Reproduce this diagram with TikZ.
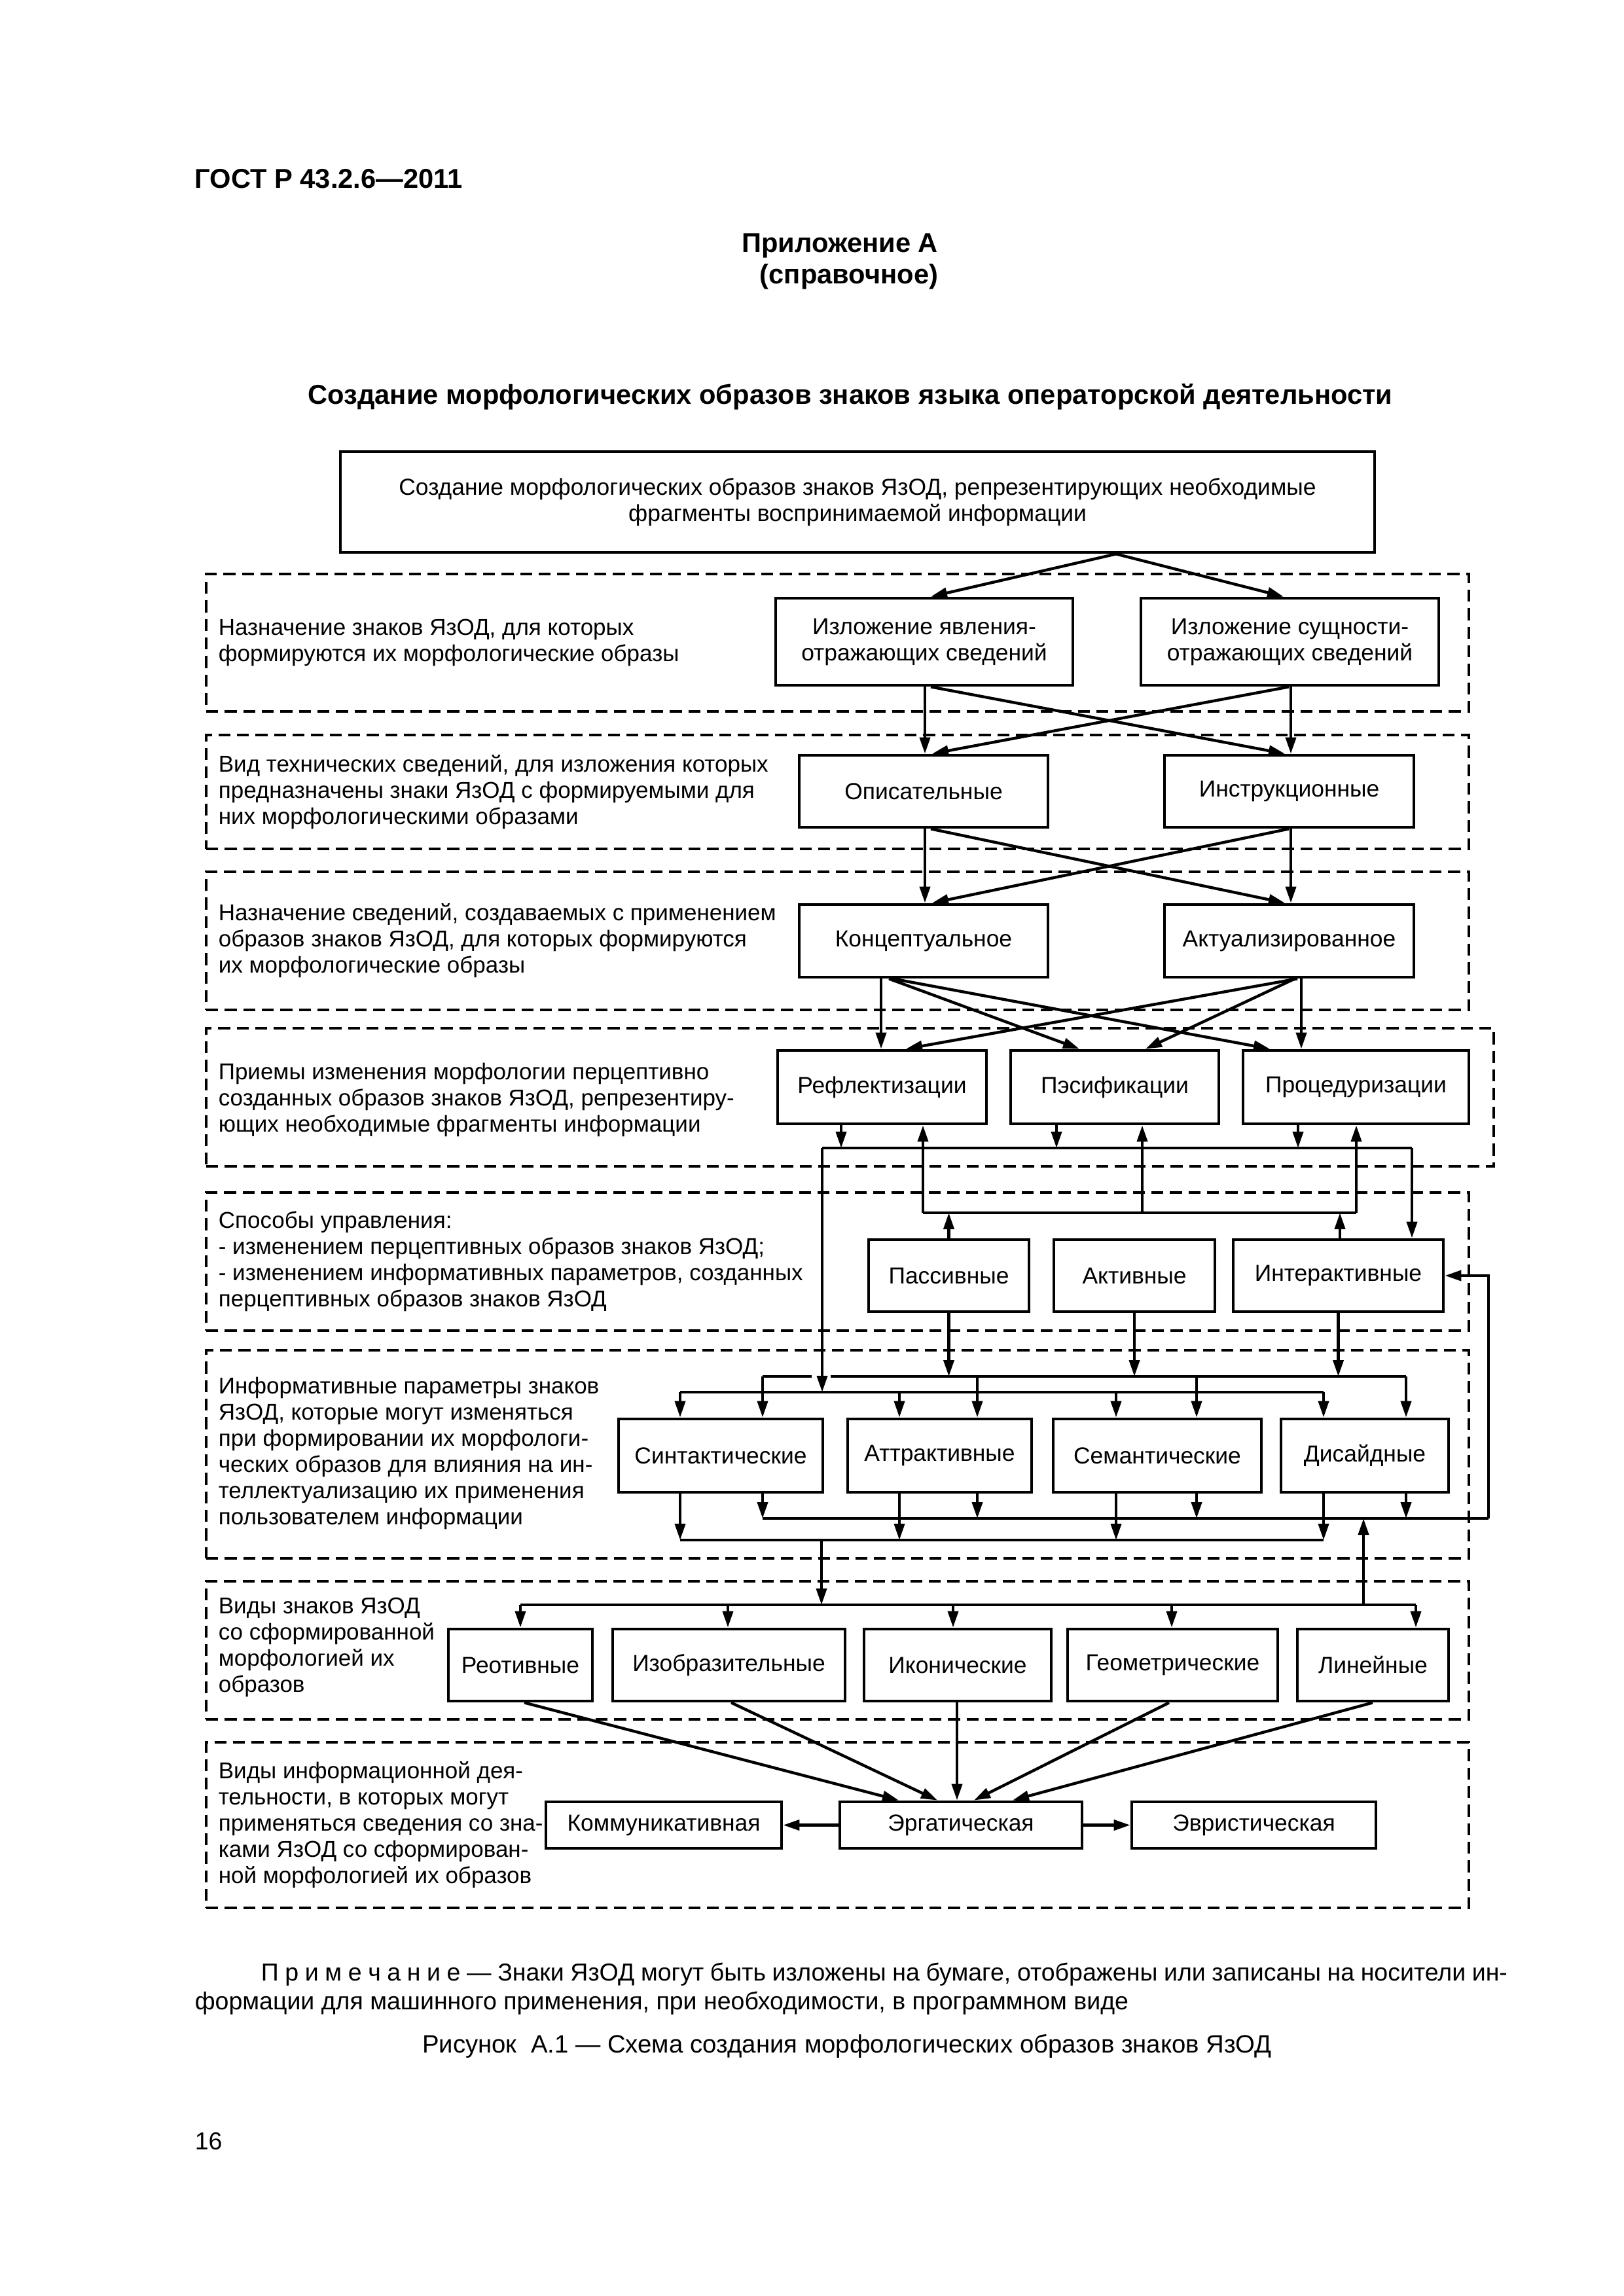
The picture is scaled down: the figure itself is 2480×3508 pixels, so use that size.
\documentclass[tikz,border=0pt]{standalone}
\usepackage{fontspec}
\setmainfont{Liberation Sans}
\usetikzlibrary{arrows.meta}
\newcommand\rnode[7]{\node[#1, minimum width={(#5-#3)*0.24pt}, minimum height={(#6-#4)*0.24pt}] (#2) at ({(#3+#5)/2},{(#4+#6)/2}) {#7};}
\tikzset{
  bx/.style={draw, line width=1.15pt, align=center, inner sep=0pt, font=\fontsize{8.5}{9.6}\selectfont},
  frm/.style={draw, line width=0.95pt, dash pattern=on 4.4pt off 2.4pt, inner sep=0pt},
  lbl/.style={anchor=west, align=left, inner sep=0pt, font=\fontsize{8.4}{9.6}\selectfont},
  ln/.style={line width=1.05pt},
  ar/.style={line width=1.05pt, -{Triangle[length=6pt,width=3.8pt]}},
  hdr/.style={inner sep=0pt, font=\bfseries\fontsize{10}{12}\selectfont},
  txt/.style={inner sep=0pt, font=\fontsize{9}{11}\selectfont}
}
\begin{document}
\begin{tikzpicture}[x=0.24pt,y=-0.24pt]
\fill[white] (0,0) rectangle (2480,3508);
\useasboundingbox (0,0) rectangle (2480,3508);

% header
\node[hdr, anchor=west] (gost) at (297,273) {ГОСТ Р 43.2.6—2011};
\node[hdr] (pril) at (1283,376) {Приложение А};
\node[hdr] (sprav) at (1297,423) {(справочное)};
\node[hdr] (title) at (1299,606) {Создание морфологических образов знаков языка операторской деятельности};

% frames
\rnode{frm}{f1}{315}{877}{2244}{1087}{}
\rnode{frm}{f2}{315}{1123}{2244}{1297}{}
\rnode{frm}{f3}{315}{1332}{2244}{1543}{}
\rnode{frm}{f4}{315}{1571}{2282}{1782}{}
\rnode{frm}{f5}{315}{1822}{2244}{2033}{}
\rnode{frm}{f6}{315}{2063}{2244}{2381}{}
\rnode{frm}{f7}{315}{2416}{2244}{2627}{}
\rnode{frm}{f8}{315}{2662}{2244}{2915}{}

% frame labels
\node[lbl] (t1) at (333,982) {Назначение знаков ЯзОД, для которых\\формируются их морфологические образы};
\node[lbl] (t2) at (333,1210) {Вид технических сведений, для изложения которых\\предназначены знаки ЯзОД с формируемыми для\\них морфологическими образами};
\node[lbl] (t3) at (333,1437) {Назначение сведений, создаваемых с применением\\образов знаков ЯзОД, для которых формируются\\их морфологические образы};
\node[lbl] (t4) at (333,1680) {Приемы изменения морфологии перцептивно\\созданных образов знаков ЯзОД, репрезентиру-\\ющих необходимые фрагменты информации};
\node[lbl] (t5) at (333,1927) {Способы управления:\\- изменением перцептивных образов знаков ЯзОД;\\- изменением информативных параметров, созданных\\перцептивных образов знаков ЯзОД};
\node[lbl] (t6) at (333,2220) {Информативные параметры знаков\\ЯзОД, которые могут изменяться\\при формировании их морфологи-\\ческих образов для влияния на ин-\\теллектуализацию их применения\\пользователем информации};
\node[lbl] (t7) at (333,2517) {Виды знаков ЯзОД\\со сформированной\\морфологией их\\образов};
\node[lbl] (t8) at (333,2788) {Виды информационной дея-\\тельности, в которых могут\\применяться сведения со зна-\\ками ЯзОД со сформирован-\\ной морфологией их образов};

% boxes
\rnode{bx}{top}{520}{690}{2100}{844}{Создание морфологических образов знаков ЯзОД, репрезентирующих необходимые\\фрагменты воспринимаемой информации}
\rnode{bx}{izl1}{1185}{914}{1639}{1047}{Изложение явления-\\отражающих сведений}
\rnode{bx}{izl2}{1743}{914}{2198}{1047}{Изложение сущности-\\отражающих сведений}
\rnode{bx}{opis}{1221}{1154}{1601}{1264}{Описательные}
\rnode{bx}{instr}{1779}{1154}{2160}{1264}{Инструкционные}
\rnode{bx}{konc}{1221}{1382}{1601}{1493}{Концептуальное}
\rnode{bx}{akt}{1779}{1382}{2160}{1493}{Актуализированное}
\rnode{bx}{refl}{1188}{1605}{1507}{1717}{Рефлектизации}
\rnode{bx}{pes}{1544}{1605}{1862}{1717}{Пэсификации}
\rnode{bx}{proc}{1899}{1605}{2244}{1717}{Процедуризации}
\rnode{bx}{pas}{1327}{1894}{1572}{2004}{Пассивные}
\rnode{bx}{act}{1610}{1894}{1856}{2004}{Активные}
\rnode{bx}{inter}{1884}{1894}{2205}{2004}{Интерактивные}
\rnode{bx}{syn}{945}{2168}{1257}{2280}{Синтактические}
\rnode{bx}{att}{1295}{2168}{1576}{2280}{Аттрактивные}
\rnode{bx}{sem}{1609}{2168}{1927}{2280}{Семантические}
\rnode{bx}{dis}{1957}{2168}{2213}{2280}{Дисайдные}
\rnode{bx}{reo}{685}{2489}{905}{2599}{Реотивные}
\rnode{bx}{izo}{936}{2489}{1291}{2599}{Изобразительные}
\rnode{bx}{ikon}{1320}{2489}{1606}{2599}{Иконические}
\rnode{bx}{geo}{1631}{2489}{1952}{2599}{Геометрические}
\rnode{bx}{lin}{1982}{2489}{2213}{2599}{Линейные}
\rnode{bx}{kom}{834}{2753}{1194}{2824}{Коммуникативная}
\rnode{bx}{erg}{1283}{2753}{1653}{2824}{Эргатическая}
\rnode{bx}{evr}{1729}{2753}{2102}{2824}{Эвристическая}

% top -> F1
\draw[ar] (top.south -| 1705,0) -- (izl1.north -| 1422,0);
\draw[ar] (top.south -| 1705,0) -- (izl2.north -| 1961,0);
% F1 -> F2
\draw[ar] (izl1.south -| 1413,0) -- (opis.north -| 1413,0);
\draw[ar] (izl1.south -| 1422,0) -- (instr.north -| 1963,0);
\draw[ar] (izl2.south -| 1969,0) -- (opis.north -| 1424,0);
\draw[ar] (izl2.south -| 1972,0) -- (instr.north -| 1972,0);
% F2 -> F3
\draw[ar] (opis.south -| 1413,0) -- (konc.north -| 1413,0);
\draw[ar] (opis.south -| 1422,0) -- (akt.north -| 1963,0);
\draw[ar] (instr.south -| 1969,0) -- (konc.north -| 1424,0);
\draw[ar] (instr.south -| 1972,0) -- (akt.north -| 1972,0);
% F3 -> F4
\draw[ar] (konc.south -| 1346,0) -- (refl.north -| 1346,0);
\draw[ar] (konc.south -| 1358,0) -- (pes.north -| 1649,0);
\draw[ar] (konc.south -| 1364,0) -- (proc.north -| 1940,0);
\draw[ar] (akt.south -| 1982,0) -- (refl.north -| 1384,0);
\draw[ar] (akt.south -| 1978,0) -- (pes.north -| 1750,0);
\draw[ar] (akt.south -| 1988,0) -- (proc.north -| 1988,0);

% F4 buses
\coordinate (ub1) at (1256,1754);
\coordinate (ub2) at (2157,1754);
\coordinate (lb1) at (1410,1853);
\coordinate (lb2) at (2072,1853);
\draw[ln] (ub1) -- (ub2);
\draw[ln] (lb1) -- (lb2);
\draw[ar] (refl.south -| 1285,0) -- (ub1 -| 1285,0);
\draw[ar] (pes.south -| 1614,0) -- (ub1 -| 1614,0);
\draw[ar] (proc.south -| 1983,0) -- (ub1 -| 1983,0);
\draw[ar] (lb1) -- (refl.south -| lb1);
\draw[ar] (lb1 -| 1745,0) -- (pes.south -| 1745,0);
\draw[ar] (lb2) -- (proc.south -| lb2);
\draw[ar] (ub2) -- (inter.north -| ub2);
\draw[ar] (pas.north) -- (lb1 -| pas.north);
\draw[ar] (inter.north -| 2047,0) -- (lb1 -| 2047,0);

% F6 buses
\coordinate (b1a) at (1165,2103);
\coordinate (b1b) at (2148,2103);
\coordinate (b2a) at (1039,2127);
\coordinate (b2b) at (2022,2127);
\coordinate (b3a) at (1165,2320);
\coordinate (b3b) at (2274,2320);
\coordinate (b4a) at (1039,2353);
\coordinate (b4b) at (2022,2353);
\draw[ar] (ub1) -- (b2a -| ub1);
\draw[ln] (b1a) -- (b1a -| 1240,0);
\draw[ln] (b1a -| 1269,0) -- (b1b);
\draw[ln] (b2a) -- (b2b);
\draw[ln] (b3a) -- (b3b);
\draw[ln] (b4a) -- (b4b);
\draw[ar] (pas.south) -- (b1a -| pas.south);
\draw[ar] (act.south) -- (b1a -| act.south);
\draw[ar] (inter.south) -- (b1a -| inter.south);
\draw[ar] (b2a) -- (syn.north -| b2a);
\draw[ar] (b1a) -- (syn.north -| b1a);
\draw[ar] (b2a -| 1374,0) -- (att.north -| 1374,0);
\draw[ar] (b1a -| 1493,0) -- (att.north -| 1493,0);
\draw[ar] (b2a -| 1705,0) -- (sem.north -| 1705,0);
\draw[ar] (b1a -| 1828,0) -- (sem.north -| 1828,0);
\draw[ar] (b2b) -- (dis.north -| b2b);
\draw[ar] (b1b) -- (dis.north -| b1b);
\draw[ar] (syn.south -| b4a) -- (b4a);
\draw[ar] (syn.south -| b3a) -- (b3a);
\draw[ar] (att.south -| 1374,0) -- (b4a -| 1374,0);
\draw[ar] (att.south -| 1493,0) -- (b3a -| 1493,0);
\draw[ar] (sem.south -| 1705,0) -- (b4a -| 1705,0);
\draw[ar] (sem.south -| 1828,0) -- (b3a -| 1828,0);
\draw[ar] (dis.south -| b4b) -- (b4b);
\draw[ar] (dis.south -| 2148,0) -- (b3a -| 2148,0);
\draw[ar] (b3b) -- (b3b |- inter.east) -- (inter.east);

% F7 bus
\coordinate (vb1) at (795,2452);
\coordinate (vb2) at (2163,2452);
\draw[ln] (vb1) -- (vb2);
\draw[ar] (b4a -| 1255,0) -- (vb1 -| 1255,0);
\draw[ar] (vb1 -| 2083,0) -- (b3a -| 2083,0);
\draw[ar] (vb1) -- (reo.north -| vb1);
\draw[ar] (vb1 -| 1112,0) -- (izo.north -| 1112,0);
\draw[ar] (vb1 -| 1456,0) -- (ikon.north -| 1456,0);
\draw[ar] (vb1 -| 1790,0) -- (geo.north -| 1790,0);
\draw[ar] (vb2) -- (lin.north -| vb2);

% F7 -> F8
\draw[ar] (reo.south -| 801,0) -- (erg.north -| 1373,0);
\draw[ar] (izo.south -| 1117,0) -- (erg.north -| 1432,0);
\draw[ar] (ikon.south -| 1462,0) -- (erg.north -| 1462,0);
\draw[ar] (geo.south -| 1786,0) -- (erg.north -| 1488,0);
\draw[ar] (lin.south -| 2097,0) -- (erg.north -| 1547,0);
\draw[ar] (erg.west) -- (kom.east);
\draw[ar] (erg.east) -- (evr.west);

% footer
\node[txt, anchor=west] (note1) at (398,3017) {\makebox[457pt][s]{П р и м е ч а н и е — Знаки ЯзОД могут быть изложены на бумаге, отображены или записаны на носители ин-}};
\node[txt, anchor=west] (note2) at (297,3061) {формации для машинного применения, при необходимости, в программном виде};
\node[txt, font=\fontsize{9.2}{11}\selectfont] (cap) at (1294,3126) {Рисунок\ \ А.1 — Схема создания морфологических образов знаков ЯзОД};
\node[txt, anchor=west] (page) at (297,3272) {16};
\end{tikzpicture}
\end{document}
